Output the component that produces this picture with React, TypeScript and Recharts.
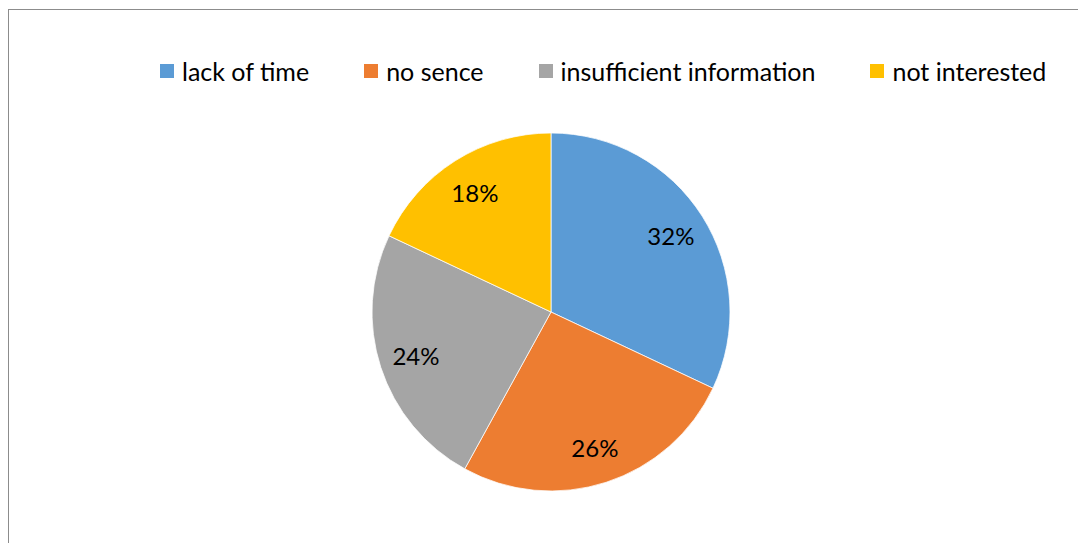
import React from "react";
import { PieChart, Pie, Cell, Legend } from "recharts";

const reasons = ["lack of time", "no sence", "insufficient information", "not interested"];
const shares = [32, 26, 24, 18];
const colors = ["#5B9BD5", "#ED7D31", "#A5A5A5", "#FFC000"];

const data = reasons.map((name, i) => ({ name, value: shares[i] }));

const FONT = "Lato, 'Open Sans', sans-serif";
const RADIAN = Math.PI / 180;

const renderLabel = (props: any) => {
  const { cx, cy, midAngle, percent } = props;
  const r = 142;
  const x = cx + r * Math.cos(-midAngle * RADIAN);
  const y = cy + r * Math.sin(-midAngle * RADIAN);
  return (
    <text
      x={x}
      y={y}
      fill="#000"
      textAnchor="middle"
      dominantBaseline="central"
      fontSize={24}
      fontFamily={FONT}
    >
      {Math.round(percent * 100)}%
    </text>
  );
};

const renderLegend = (props: any) => {
  // keep the original category order, not the sorted one
  const items = [...(props.payload || [])].sort(
    (a: any, b: any) => reasons.indexOf(a.value) - reasons.indexOf(b.value)
  );
  return (
    <div style={{ display: "flex", paddingLeft: 151, gap: 55, alignItems: "center" }}>
      {items.map((entry: any, i: number) => (
        <div key={i} style={{ display: "flex", alignItems: "center" }}>
          <span
            style={{
              display: "inline-block",
              width: 14,
              height: 14,
              background: entry.color,
              marginRight: 8,
            }}
          />
          <span style={{ fontSize: 25, fontFamily: FONT, color: "#000", lineHeight: "28px" }}>
            {entry.value}
          </span>
        </div>
      ))}
    </div>
  );
};

export default function App() {
  return (
    <div
      style={{
        marginTop: 1,
        width: 1078,
        height: 534,
        borderTop: "1px solid #8c8c8c",
        borderLeft: "1px solid #8c8c8c",
        boxSizing: "border-box",
        background: "#fff",
        overflow: "hidden",
      }}
    >
      <PieChart width={1077} height={533} margin={{ top: 0, right: 0, bottom: 0, left: 0 }}>
        <Legend
          verticalAlign="middle"
          content={renderLegend}
          wrapperStyle={{ top: 47, left: 0, width: 1077 }}
        />
        <Pie
          data={data}
          dataKey="value"
          nameKey="name"
          cx={542}
          cy={302}
          outerRadius={179}
          startAngle={90}
          endAngle={-270}
          stroke="#fff"
          strokeWidth={0.75}
          label={renderLabel}
          labelLine={false}
          isAnimationActive={false}
        >
          {data.map((d, i) => (
            <Cell key={d.name} fill={colors[i]} />
          ))}
        </Pie>
      </PieChart>
    </div>
  );
}
